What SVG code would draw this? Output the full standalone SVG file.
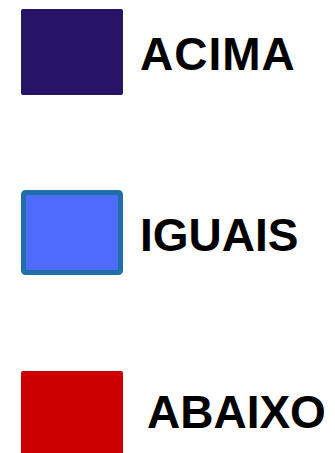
<svg xmlns="http://www.w3.org/2000/svg" width="335" height="453" viewBox="0 0 335 453">
<style>
.lbl{font-family:"Liberation Sans",Arial,sans-serif;font-weight:bold;font-size:46px;fill:#000}
</style>
<rect width="335" height="453" fill="#fff"/>
<g id="acima">
<rect x="21" y="9" width="102" height="86" rx="2" fill="#271466"/>
<text class="lbl" x="140" y="70" letter-spacing="1">ACIMA</text>
</g>
<g id="iguais">
<rect x="23.5" y="192.5" width="97" height="80" rx="2" fill="#4f6bff" stroke="#1f6fa8" stroke-width="5"/>
<text class="lbl" x="140" y="251">IGUAIS</text>
</g>
<g id="abaixo">
<rect x="21" y="371" width="102" height="90" rx="2" fill="#cc0000"/>
<text class="lbl" x="147" y="428">ABAIXO</text>
</g>
</svg>
